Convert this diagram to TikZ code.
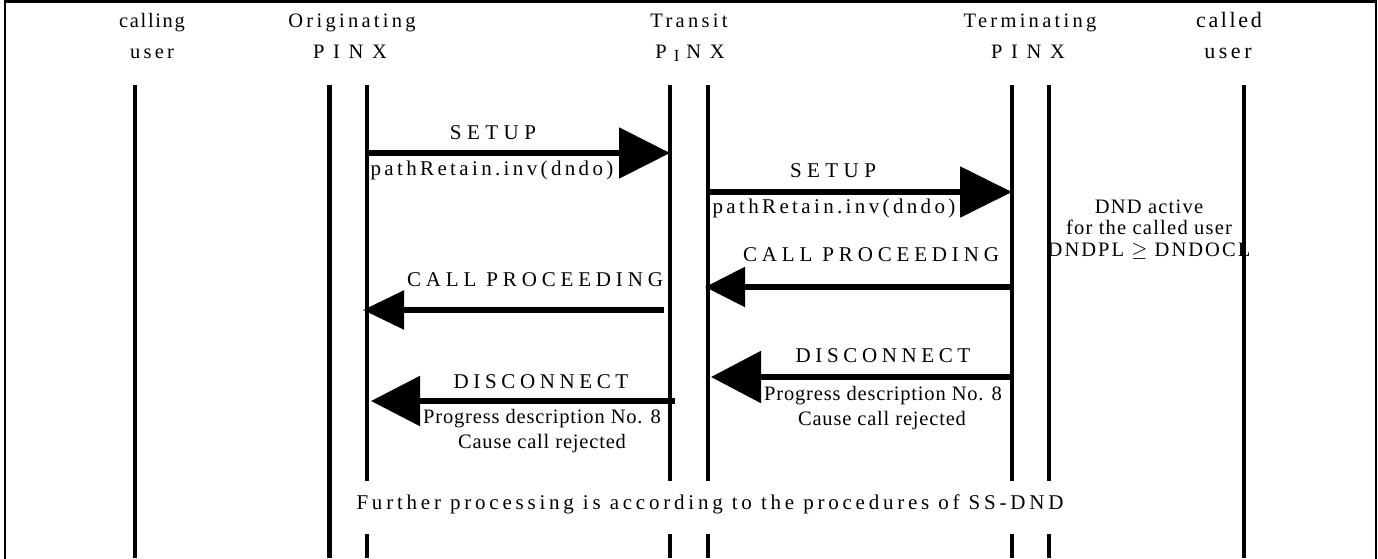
\documentclass[tikz,border=0pt]{standalone}
\usepackage{fontspec}
\setmainfont{Liberation Serif}
\usetikzlibrary{arrows.meta}
\newcommand{\lsp}[2]{{\addfontfeatures{LetterSpace=#1}#2}}
\begin{document}
\begin{tikzpicture}[x=1pt,y=-1pt,
  life/.style={line width=4pt},
  msg/.style={line width=5.5pt},
  hdr/.style={anchor=base, font=\fontsize{20.5}{20.5}\selectfont, inner sep=0pt},
  lbl/.style={anchor=base, font=\fontsize{21}{21}\selectfont, inner sep=0pt},
  note/.style={anchor=base, font=\fontsize{20.5}{20.5}\selectfont, inner sep=0pt},
]
\useasboundingbox (0,0) rectangle (1378,558);
\clip (0,0) rectangle (1378,558);
\fill[white] (0,0) rectangle (1378,558);
% frame
\coordinate (fbl) at (5,600);
\coordinate (ftl) at (5,1.5);
\coordinate (ftr) at (1376,1.5);
\coordinate (fbr) at (1376,600);
\draw[line width=2.5pt] (fbl) -- (ftl) -- (ftr) -- (fbr);

% headers
\node[hdr] (h1a) at (152,27) {\lsp{8}{calling}};
\node[hdr] (h1b) at (152,58) {\lsp{16}{user}};
\node[hdr] (h2a) at (352,27) {\lsp{16}{Originating}};
\node[hdr] (h2b) at (350,58) {\lsp{42}{PINX}};
\node[hdr] (h3a) at (689,27) {\lsp{16}{Transit}};
\node[hdr] (h3b) at (690,58) {P\hspace{7pt}\raisebox{-3pt}{\fontsize{17}{17}\selectfont I}\hspace{7pt}\lsp{42}{NX}};
\node[hdr] (h4a) at (1030,27) {\lsp{16}{Terminating}};
\node[hdr] (h4b) at (1028,58) {\lsp{42}{PINX}};
\node[hdr, font=\fontsize{22}{22}\selectfont] (h5a) at (1229,27) {\lsp{12}{called}};
\node[hdr, font=\fontsize{22}{22}\selectfont] (h5b) at (1228,58) {\lsp{16}{user}};

% DND note (drawn before lifelines so that they cover its ends)
\node[note, align=center, font=\fontsize{20.5}{21.5}\selectfont] (dnd) at (1149,256)
  {\lsp{6}{DND active}\\\lsp{6}{for the called user}\\\lsp{10}{DNDPL $\geq$ DNDOCL}};

% lifelines
\coordinate (cu-t) at (135,85);   \coordinate (cu-b) at (135,558);
\coordinate (oo-t) at (329,85);   \coordinate (oo-b) at (329,558);
\coordinate (oi-t) at (367,85);   \coordinate (oi-m) at (367,481); \coordinate (oi-n) at (367,534); \coordinate (oi-b) at (367,558);
\coordinate (ta-t) at (670,85);   \coordinate (ta-m) at (670,481); \coordinate (ta-n) at (670,534); \coordinate (ta-b) at (670,558);
\coordinate (tb-t) at (708,85);   \coordinate (tb-m) at (708,481); \coordinate (tb-n) at (708,534); \coordinate (tb-b) at (708,558);
\coordinate (ra-t) at (1012,85);  \coordinate (ra-m) at (1012,481); \coordinate (ra-n) at (1012,534); \coordinate (ra-b) at (1012,558);
\coordinate (rb-t) at (1049,85);  \coordinate (rb-m) at (1049,481); \coordinate (rb-n) at (1049,534); \coordinate (rb-b) at (1049,558);
\coordinate (cd-t) at (1244,85);  \coordinate (cd-b) at (1244,558);
\draw[life] (cu-t) -- (cu-b);
\draw[life, line width=5pt] (oo-t) -- (oo-b);
\draw[life, line width=3.5pt] (oi-t) -- (oi-m) (oi-n) -- (oi-b);
\draw[life] (ta-t) -- (ta-m) (ta-n) -- (ta-b);
\draw[life] (tb-t) -- (tb-m) (tb-n) -- (tb-b);
\draw[life] (ra-t) -- (ra-m) (ra-n) -- (ra-b);
\draw[life] (rb-t) -- (rb-m) (rb-n) -- (rb-b);
\draw[life] (cd-t) -- (cd-b);

% messages
\coordinate (m1a) at (367,153);  \coordinate (m1b) at (670,153);
\draw[msg, -{Triangle[length=51pt,width=50pt]}] (m1a) -- (m1b);
\node[lbl] (m1t) at (493,139) {\lsp{26}{SETUP}};
\node[lbl] (m1u) at (492,175) {\lsp{16}{pathRetain.inv(dndo)}};

\coordinate (m2a) at (708,192);  \coordinate (m2b) at (1012,192);
\draw[msg, -{Triangle[length=52pt,width=50pt]}] (m2a) -- (m2b);
\node[lbl] (m2t) at (833,177) {\lsp{26}{SETUP}};
\node[lbl] (m2u) at (834,213) {\lsp{16}{pathRetain.inv(dndo)}};

\coordinate (m3a) at (1012,287); \coordinate (m3b) at (705,287);
\draw[msg, -{Triangle[length=40pt,width=39pt]}] (m3a) -- (m3b);
\node[lbl] (m3t) at (871,261) {\lsp{23}{CALL PROCEEDING}};

\coordinate (m4a) at (664,310);  \coordinate (m4b) at (363,310);
\draw[msg, -{Triangle[length=41pt,width=38pt]}] (m4a) -- (m4b);
\node[lbl] (m4t) at (535,286) {\lsp{23}{CALL PROCEEDING}};

\coordinate (m5a) at (1012,377); \coordinate (m5b) at (711,377);
\draw[msg, -{Triangle[length=50pt,width=51pt]}] (m5a) -- (m5b);
\node[lbl] (m5t) at (883,362) {\lsp{22}{DISCONNECT}};
\node[note] (m5u) at (883,400) {\lsp{4}{Progress description No. 8}};
\node[note] (m5v) at (882,425) {\lsp{4}{Cause call rejected}};

\coordinate (m6a) at (675,401);  \coordinate (m6b) at (371,401);
\draw[msg, -{Triangle[length=49pt,width=49pt]}] (m6a) -- (m6b);
\node[lbl] (m6t) at (541,388) {\lsp{22}{DISCONNECT}};
\node[note] (m6u) at (542,423) {\lsp{4}{Progress description No. 8}};
\node[note] (m6v) at (542,448) {\lsp{4}{Cause call rejected}};

% closing remark
\node[lbl] (fp) at (710,509) {\lsp{18}{Further processing is according to the procedures of SS-DND}};
\end{tikzpicture}
\end{document}
